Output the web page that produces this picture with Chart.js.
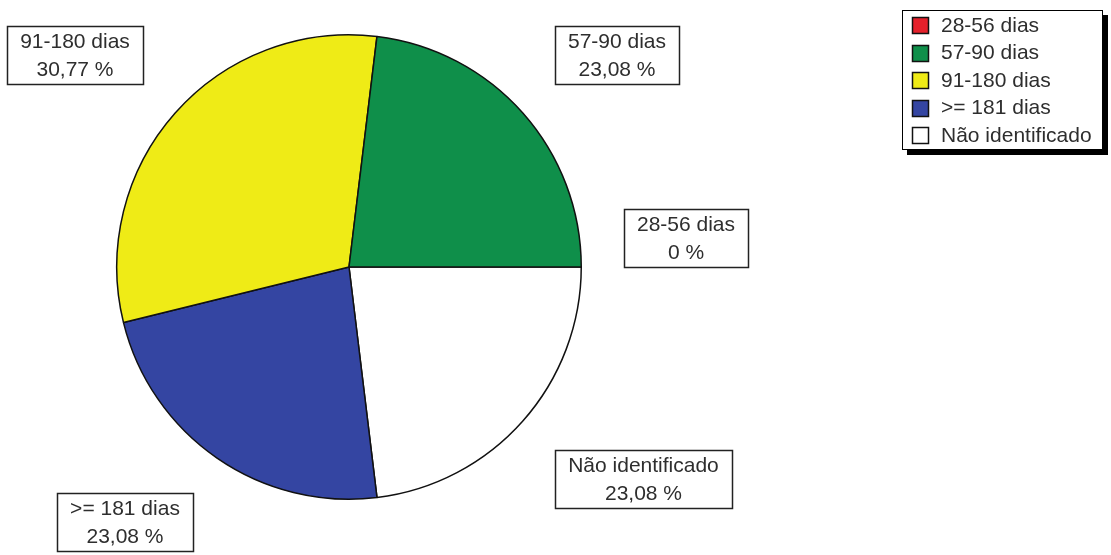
<!DOCTYPE html>
<html>
<head>
<meta charset="utf-8">
<script src="https://cdn.jsdelivr.net/npm/chart.js@4.4.1/dist/chart.umd.min.js"></script>
<style>
  html, body { margin: 0; padding: 0; background: #ffffff; }
  #wrap { width: 1111px; height: 555px; position: relative; }
</style>
</head>
<body>
<div id="wrap"><canvas id="pie" width="1111" height="555"></canvas></div>
<script>
// Distribution by time range (percent of total)
const categories = ['28-56 dias', '57-90 dias', '91-180 dias', '>= 181 dias', 'Não identificado'];
const percentages = [0, 23.08, 30.77, 23.08, 23.08];
const sliceColors = ['#e4202b', '#0f8f4a', '#efeb16', '#3445a2', '#ffffff'];

const FONT = '"Liberation Sans", Arial, sans-serif';

function formatPct(v) {
  if (v === 0) return '0 %';
  return v.toFixed(2).replace('.', ',') + ' %';
}

// Slices run counter-clockwise from 3 o'clock, so feed them to Chart.js
// (which goes clockwise) in reverse order, starting at 3 o'clock.
const order = categories.map((_, i) => i).reverse();

// Boxed "name / percent" callouts placed outside each slice.
const calloutPlugin = {
  id: 'callouts',
  afterDatasetsDraw(chart) {
    const ctx = chart.ctx;
    const meta = chart.getDatasetMeta(0);
    ctx.save();
    ctx.font = '21px ' + FONT;
    meta.data.forEach((arc, j) => {
      const idx = order[j];
      const p = arc.getProps(['x', 'y', 'startAngle', 'endAngle', 'outerRadius'], true);
      const mid = (p.startAngle + p.endAngle) / 2;
      const ax = p.x + Math.cos(mid) * p.outerRadius * 1.185;
      const ay = p.y + Math.sin(mid) * p.outerRadius * 1.185;
      const l1 = categories[idx];
      const l2 = formatPct(percentages[idx]);
      const w = Math.round(Math.max(ctx.measureText(l1).width, ctx.measureText(l2).width) + 26);
      const h = 58;
      const right = Math.cos(mid) >= -1e-9;
      const upper = Math.sin(mid) <= 1e-9;
      const bx = Math.round(right ? ax : ax - w);
      const by = Math.round(upper ? ay - h : ay);
      ctx.fillStyle = '#ffffff';
      ctx.fillRect(bx, by, w, h);
      ctx.strokeStyle = '#222222';
      ctx.lineWidth = 1.5;
      ctx.strokeRect(bx + 0.5, by + 0.5, w, h);
      ctx.fillStyle = '#2e2e2e';
      ctx.textAlign = 'center';
      ctx.textBaseline = 'middle';
      ctx.fillText(l1, bx + w / 2, by + 16);
      ctx.fillText(l2, bx + w / 2, by + 44);
    });
    ctx.restore();
  }
};

// Legend box with drop shadow, top right.
const legendPlugin = {
  id: 'boxLegend',
  afterDraw(chart) {
    const ctx = chart.ctx;
    const x0 = 902, y0 = 10, w = 201, h = 140, shadow = 5;
    ctx.save();
    ctx.fillStyle = '#000000';
    ctx.fillRect(x0 + shadow, y0 + shadow, w, h);
    ctx.fillStyle = '#ffffff';
    ctx.fillRect(x0, y0, w, h);
    ctx.strokeStyle = '#000000';
    ctx.lineWidth = 1;
    ctx.strokeRect(x0 + 0.5, y0 + 0.5, w - 1, h - 1);
    ctx.font = '21px ' + FONT;
    ctx.textBaseline = 'middle';
    ctx.textAlign = 'left';
    categories.forEach((name, i) => {
      const cy = y0 + 15 + i * 27.5;
      ctx.fillStyle = sliceColors[i];
      ctx.fillRect(912, Math.round(cy - 8), 17, 17);
      ctx.strokeStyle = '#111111';
      ctx.lineWidth = 1.5;
      ctx.strokeRect(912.5, Math.round(cy - 8) + 0.5, 16, 16);
      ctx.fillStyle = '#2e2e2e';
      ctx.fillText(name, 941, cy + 1);
    });
    ctx.restore();
  }
};

new Chart(document.getElementById('pie'), {
  type: 'pie',
  data: {
    labels: order.map(i => categories[i]),
    datasets: [{
      data: order.map(i => percentages[i]),
      backgroundColor: order.map(i => sliceColors[i]),
      borderColor: '#111111',
      borderWidth: 1.5
    }]
  },
  options: {
    responsive: false,
    animation: false,
    rotation: 90,
    layout: { padding: { left: 116, right: 529, top: 34, bottom: 55 } },
    plugins: {
      legend: { display: false },
      tooltip: { enabled: false }
    }
  },
  plugins: [calloutPlugin, legendPlugin]
});
</script>
</body>
</html>
